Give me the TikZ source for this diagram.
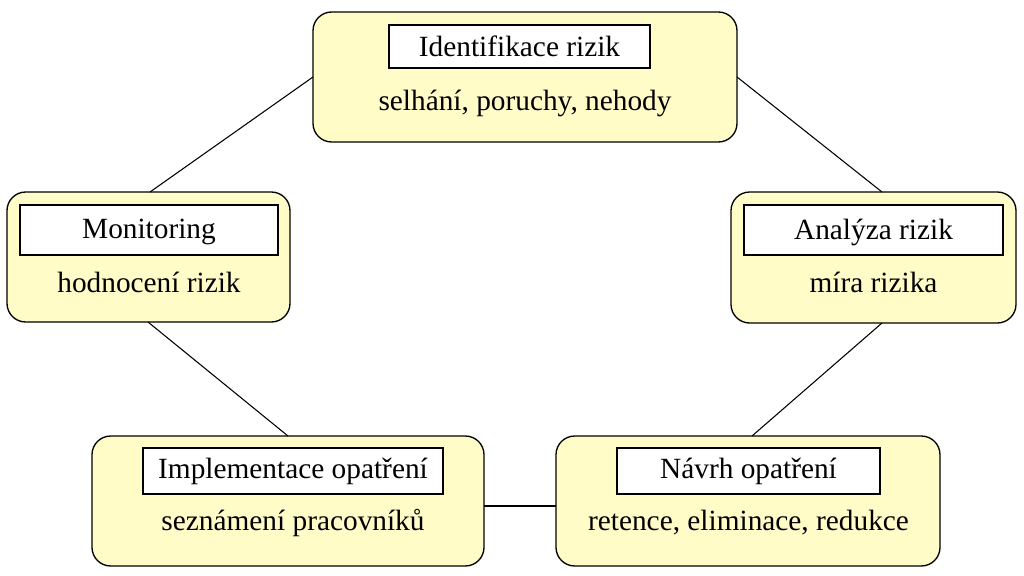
\documentclass[tikz,border=0pt]{standalone}
\usepackage{fontspec}
\setmainfont{Liberation Serif}
\begin{document}
\begin{tikzpicture}[x=0.75pt,y=-0.75pt,
 outer/.style={draw,line width=1pt,fill=yellow!22!white,rounded corners=14pt},
 inner/.style={draw,line width=0.8pt,fill=white},
 lbl/.style={font=\fontsize{22}{24}\selectfont,inner sep=0pt},
 conn/.style={line width=0.8pt}]
\useasboundingbox (0,0) rectangle (1024,575);
\draw[outer] (313,12) rectangle (737,142);
\draw[outer] (7,192) rectangle (290,322);
\draw[outer] (731,192) rectangle (1016,323);
\draw[outer] (92,436) rectangle (484,566);
\draw[outer] (556,436) rectangle (940,566);
\draw[inner] (389,25) rectangle (650,68);
\draw[inner] (20,205) rectangle (278,255);
\draw[inner] (744,205) rectangle (1003,255);
\draw[inner] (143,448) rectangle (443,494);
\draw[inner] (617,448) rectangle (880,494);
\node[lbl] (t1) at (519.5,46) {Identifikace rizik};
\node[lbl] (t2) at (525,103) {selhání, poruchy, nehody};
\node[lbl] (l1) at (149,232) {Monitoring};
\node[lbl] (l2) at (149,282) {hodnocení rizik};
\node[lbl] (r1) at (873.5,232) {Analýza rizik};
\node[lbl] (r2) at (873.5,282) {míra rizika};
\node[lbl] (bl1) at (293,471) {Implementace opatření};
\node[lbl] (bl2) at (293,523) {seznámení pracovníků};
\node[lbl] (br1) at (748.5,471) {Návrh opatření};
\node[lbl] (br2) at (748.5,523) {retence, eliminace, redukce};
\coordinate (a1) at (313,77); \coordinate (a2) at (150,192);
\coordinate (b1) at (737,77); \coordinate (b2) at (882,192);
\coordinate (c1) at (148,322); \coordinate (c2) at (288,436);
\coordinate (d1) at (882,323); \coordinate (d2) at (752,436);
\coordinate (e1) at (484,506); \coordinate (e2) at (556,506);
\draw[conn] (a1)--(a2); \draw[conn] (b1)--(b2); \draw[conn] (c1)--(c2);
\draw[conn] (d1)--(d2); \draw[conn] (e1)--(e2);
\end{tikzpicture}
\end{document}
